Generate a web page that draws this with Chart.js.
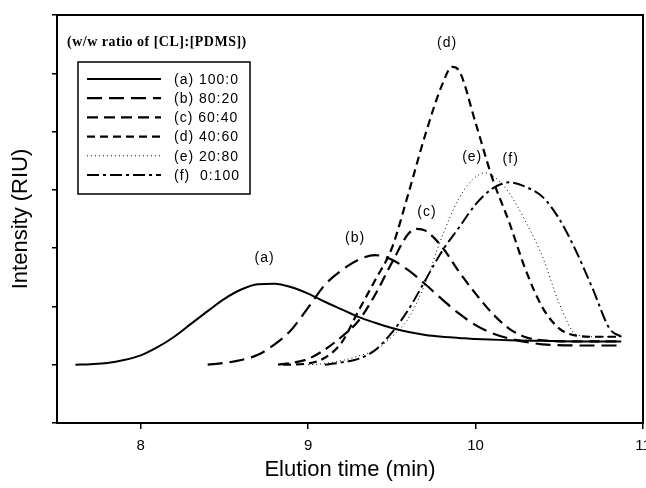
<!DOCTYPE html>
<html lang="en">

<head>
    <meta charset="UTF-8">
    <title>Elution</title>
    <script src="https://cdn.jsdelivr.net/npm/chart.js"></script>
    <style>
        html, body { margin: 0; padding: 0; background: #fff; overflow: hidden; }
        #gpc { display: block; }
    </style>
</head>

<body>
    <canvas id="gpc" width="646" height="488"></canvas>

<script>
    // readings (x: min, y: RIU, arbitrary units)
    const timeA = [7.61, 7.7, 7.8, 7.9, 8.0, 8.1, 8.2, 8.3, 8.4, 8.5, 8.6, 8.7, 8.8, 8.9, 9.0, 9.1, 9.2, 9.3, 9.4, 9.5, 9.6, 9.7, 9.8, 9.9, 10.0, 10.2, 10.4, 10.6, 10.87];
    const intensityA = [1.00, 1.01, 1.03, 1.08, 1.16, 1.30, 1.48, 1.70, 1.92, 2.13, 2.29, 2.38, 2.39, 2.33, 2.22, 2.08, 1.95, 1.82, 1.72, 1.63, 1.56, 1.51, 1.48, 1.46, 1.44, 1.42, 1.41, 1.40, 1.40];

    const timeB = [8.4, 8.5, 8.6, 8.7, 8.8, 8.9, 9.0, 9.1, 9.2, 9.3, 9.4, 9.5, 9.6, 9.7, 9.8, 9.9, 10.0, 10.1, 10.2, 10.3, 10.4, 10.6, 10.87];
    const intensityB = [1.00, 1.03, 1.08, 1.17, 1.35, 1.60, 1.98, 2.37, 2.62, 2.80, 2.88, 2.80, 2.62, 2.38, 2.12, 1.88, 1.68, 1.54, 1.45, 1.39, 1.35, 1.33, 1.33];

    const timeC = [8.82, 8.9, 9.0, 9.1, 9.2, 9.3, 9.4, 9.5, 9.6, 9.65, 9.7, 9.8, 9.9, 10.0, 10.1, 10.2, 10.3, 10.4, 10.6, 10.87];
    const intensityC = [1.00, 1.03, 1.10, 1.26, 1.48, 1.75, 2.20, 2.75, 3.25, 3.33, 3.30, 3.02, 2.60, 2.22, 1.88, 1.62, 1.47, 1.42, 1.40, 1.40];

    const timeD = [8.85, 9.0, 9.1, 9.2, 9.3, 9.4, 9.5, 9.6, 9.7, 9.8, 9.86, 9.9, 10.0, 10.1, 10.2, 10.3, 10.4, 10.5, 10.6, 10.7, 10.87];
    const intensityD = [1.00, 1.02, 1.12, 1.38, 1.92, 2.45, 3.00, 3.95, 4.95, 5.80, 6.11, 6.05, 5.15, 4.20, 3.45, 2.62, 1.98, 1.62, 1.50, 1.48, 1.48];

    const timeE = [9.0, 9.1, 9.2, 9.3, 9.4, 9.5, 9.6, 9.7, 9.8, 9.9, 10.0, 10.06, 10.1, 10.2, 10.3, 10.4, 10.5, 10.6, 10.7, 10.87];
    const intensityE = [1.00, 1.02, 1.07, 1.15, 1.25, 1.48, 1.80, 2.40, 3.20, 3.85, 4.22, 4.29, 4.25, 3.95, 3.45, 2.85, 2.05, 1.52, 1.48, 1.48];

    const timeF = [9.1, 9.2, 9.3, 9.4, 9.5, 9.6, 9.7, 9.8, 9.9, 10.0, 10.1, 10.2, 10.3, 10.4, 10.5, 10.6, 10.7, 10.8, 10.87];
    const intensityF = [1.00, 1.04, 1.10, 1.25, 1.55, 1.95, 2.45, 2.95, 3.35, 3.75, 4.02, 4.13, 4.05, 3.88, 3.50, 2.95, 2.30, 1.62, 1.48];

    const seriesLabels = ['(a) 100:0', '(b) 80:20', '(c) 60:40', '(d) 40:60', '(e) 20:80', '(f)  0:100'];
    const xTicks = [8, 9, 10, 11];
    const yTicks = [0, 1, 2, 3, 4, 5, 6, 7];

    // peak tags (a)..(f)
    const tagText = ['(a)', '(b)', '(c)', '(d)', '(e)', '(f)'];
    const tagX = [8.74, 9.28, 9.71, 9.83, 9.98, 10.21];
    const tagY = [2.83, 3.17, 3.62, 6.52, 4.56, 4.53];

    const times = [timeA, timeB, timeC, timeD, timeE, timeF];
    const values = [intensityA, intensityB, intensityC, intensityD, intensityE, intensityF];
    const dashes = [[], [15, 7], [11, 6], [8, 5], [1, 3], [12, 4, 3, 4]];
    const widths = [2, 2.2, 2.2, 2.2, 1, 2];

    const sans = 'Arial, "Liberation Sans", sans-serif';

    const framePlugin = {
        id: 'frame',
        afterDraw(chart) {
            const { ctx, chartArea: a, scales: { x, y } } = chart;
            ctx.save();
            ctx.strokeStyle = '#000';
            ctx.lineWidth = 2;
            ctx.strokeRect(a.left, a.top, a.right - a.left, a.bottom - a.top);

            // peak tags
            ctx.fillStyle = '#000';
            ctx.font = '14px ' + sans;
            ctx.letterSpacing = '1px';
            ctx.textAlign = 'center';
            ctx.textBaseline = 'middle';
            tagText.forEach((t, i) => ctx.fillText(t, x.getPixelForValue(tagX[i]), y.getPixelForValue(tagY[i])));

            // legend
            ctx.textAlign = 'left';
            ctx.letterSpacing = '0.5px';
            ctx.font = 'bold 14px "Liberation Serif", "Times New Roman", serif';
            ctx.fillText('(w/w ratio of [CL]:[PDMS])', 67, 42);
            ctx.lineWidth = 1.5;
            ctx.strokeRect(78, 62, 172, 132);
            ctx.font = '14px ' + sans;
            ctx.letterSpacing = '1px';
            chart.data.datasets.forEach((ds, i) => {
                const yy = 79 + i * 19.2;
                ctx.beginPath();
                ctx.setLineDash(ds.borderDash);
                ctx.lineWidth = ds.borderWidth;
                ctx.moveTo(87, yy);
                ctx.lineTo(161, yy);
                ctx.stroke();
                ctx.setLineDash([]);
                ctx.fillText(ds.label, 174, yy + 1);
            });
            ctx.restore();
        }
    };

    new Chart(document.getElementById('gpc'), {
        type: 'scatter',
        data: {
            datasets: seriesLabels.map((label, i) => ({
                label,
                data: times[i].map((t, k) => ({ x: t, y: values[i][k] })),
                showLine: true,
                borderColor: '#000',
                borderWidth: widths[i],
                borderDash: dashes[i],
                pointRadius: 0,
                cubicInterpolationMode: 'monotone'
            }))
        },
        options: {
            responsive: false,
            animation: false,
            layout: { padding: { top: 15, left: 0, right: 3, bottom: 0 } },
            plugins: { legend: { display: false }, tooltip: { enabled: false } },
            scales: {
                x: {
                    type: 'linear',
                    min: 7.5,
                    max: 11,
                    afterBuildTicks: s => { s.ticks = xTicks.map(v => ({ value: v })); },
                    // let the "11" run off the right edge like the original
                    afterFit: s => { s.height = 65; s.paddingRight = 0; },
                    grid: { drawOnChartArea: false, drawTicks: true, tickLength: 6, color: '#000', lineWidth: 1.5 },
                    border: { display: true, color: '#000', width: 2 },
                    ticks: { color: '#000', font: { size: 15, family: sans }, padding: 8, maxRotation: 0 },
                    title: { display: true, text: 'Elution time (min)', color: '#000', font: { size: 22, family: sans }, padding: { top: 0, bottom: 5 } }
                },
                y: {
                    type: 'linear',
                    min: 0,
                    max: 7,
                    afterBuildTicks: s => { s.ticks = yTicks.map(v => ({ value: v })); },
                    afterFit: s => { s.width = 57; },
                    grid: { drawOnChartArea: false, drawTicks: true, tickLength: 5, color: '#000', lineWidth: 1.5 },
                    border: { display: true, color: '#000', width: 2 },
                    ticks: { callback: () => '' },
                    title: { display: true, text: 'Intensity (RIU)', color: '#000', font: { size: 22, family: sans }, padding: { top: 8, bottom: 0 } }
                }
            }
        },
        plugins: [framePlugin]
    });
</script>
</body>

</html>
